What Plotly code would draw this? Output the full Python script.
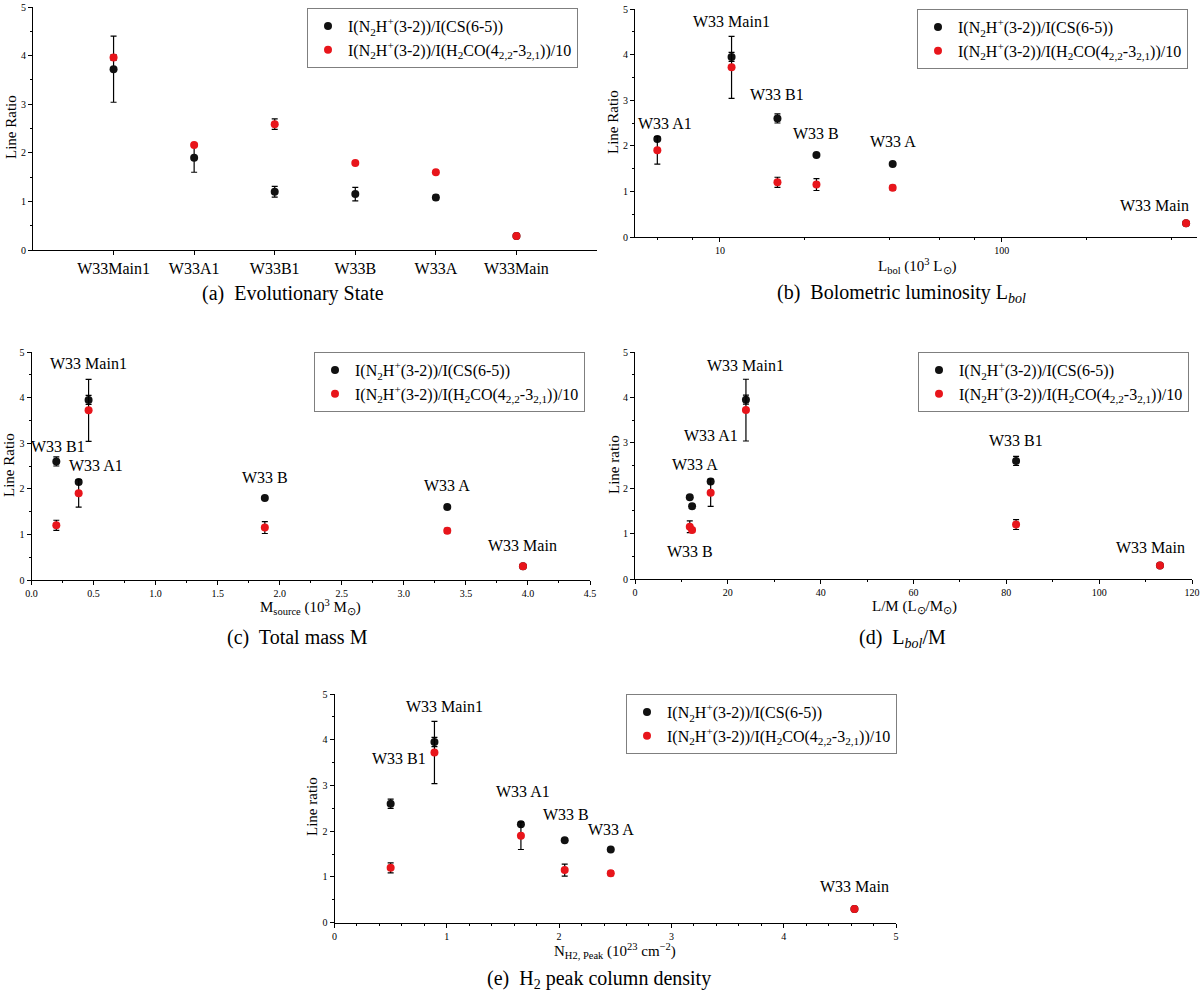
import math
import plotly.graph_objects as go

W, H = 1200, 991
SERIF = "Liberation Serif, Times New Roman, serif"

# ---------------- data ----------------
sources = ["W33 Main1", "W33 A1", "W33 B1", "W33 B", "W33 A", "W33 Main"]
evol_labels = ["W33Main1", "W33A1", "W33B1", "W33B", "W33A", "W33Main"]

ratio_cs = [3.95, 2.15, 2.60, 1.80, 1.60, 0.30]
err_cs = [0.10, 0.03, 0.10, 0.03, 0.03, 0.03]
ratio_h2co = [3.72, 1.90, 1.20, 1.15, 1.08, 0.30]
err_h2co = [0.68, 0.30, 0.11, 0.13, 0.05, 0.03]

# panel (a) as plotted in the reference (the two series are interchanged there)
evol_black = [3.72, 1.90, 1.20, 1.15, 1.08, 0.29]
evol_black_err = [0.68, 0.30, 0.11, 0.14, 0.05, 0.03]
evol_red = [3.96, 2.16, 2.59, 1.79, 1.60, 0.29]
evol_red_err = [0.06, 0.03, 0.11, 0.03, 0.03, 0.03]

lbol = [11.0, 6.0, 16.0, 22.0, 41.0, 450.0]          # 10^3 Lsun
mass = [0.46, 0.38, 0.20, 1.88, 3.35, 3.96]          # 10^3 Msun
l_over_m = [23.9, 16.3, 82.1, 11.8, 12.3, 113.1]     # Lsun/Msun
n_h2_peak = [0.89, 1.66, 0.50, 2.05, 2.46, 4.63]     # 10^23 cm^-2

name_cs = "I(N<sub>2</sub>H<sup>+</sup>(3-2))/I(CS(6-5))"
name_h2co = "I(N<sub>2</sub>H<sup>+</sup>(3-2))/I(H<sub>2</sub>CO(4<sub>2,2</sub>-3<sub>2,1</sub>))/10"

# ---------------- layout helpers ----------------
def fx(px):
    return px / W

def fy(py):
    return 1 - py / H

BLACK = "#111111"
RED = "#e8151b"

fig = go.Figure()

panels = [
    dict(ax="", x=evol_labels, yb=evol_black, eb=evol_black_err, yr=evol_red, er=evol_red_err,
         xdom=(33, 597), ydom=(250, 7), leg=(578, 8)),
    dict(ax="2", x=lbol, yb=ratio_cs, eb=err_cs, yr=ratio_h2co, er=err_h2co,
         xdom=(635, 1197), ydom=(237, 9), leg=(1188, 9)),
    dict(ax="3", x=mass, yb=ratio_cs, eb=err_cs, yr=ratio_h2co, er=err_h2co,
         xdom=(31.5, 590), ydom=(580, 352), leg=(585, 352)),
    dict(ax="4", x=l_over_m, yb=ratio_cs, eb=err_cs, yr=ratio_h2co, er=err_h2co,
         xdom=(635, 1192), ydom=(579, 352), leg=(1189, 352)),
    dict(ax="5", x=n_h2_peak, yb=ratio_cs, eb=err_cs, yr=ratio_h2co, er=err_h2co,
         xdom=(334.5, 896), ydom=(922.7, 694), leg=(897, 694)),
]

layout = dict(
    width=W, height=H,
    margin=dict(l=0, r=0, t=0, b=0, pad=0, autoexpand=False),
    paper_bgcolor="white", plot_bgcolor="white",
    font=dict(family=SERIF, color="black"),
    annotations=[],
)

for i, p in enumerate(panels):
    ax = p["ax"]
    legname = "legend" if i == 0 else f"legend{i + 1}"
    for yv, ev, col, nm in ((p["yb"], p["eb"], BLACK, name_cs), (p["yr"], p["er"], RED, name_h2co)):
        fig.add_trace(go.Scatter(
            x=p["x"], y=yv, mode="markers", name=nm,
            marker=dict(color=col, size=8),
            error_y=dict(type="data", array=ev, color="black", thickness=1.2, width=3),
            xaxis="x" + ax, yaxis="y" + ax, legend=legname,
        ))
    layout[legname] = dict(
        x=fx(p["leg"][0]), y=fy(p["leg"][1]), xanchor="right", yanchor="top",
        bordercolor="#7f7f7f", borderwidth=1, bgcolor="white",
        font=dict(family=SERIF, size=16, color="black"),
        itemwidth=30, tracegroupgap=0,
    )
    common = dict(showline=True, linecolor="black", linewidth=1, showgrid=False,
                  zeroline=False, ticks="outside", ticklen=4, tickcolor="black",
                  mirror=False, automargin=False)
    layout["yaxis" + ax] = dict(
        domain=[fy(p["ydom"][0]), fy(p["ydom"][1])], range=[0, 5], dtick=1,
        anchor="x" + ax, tickfont=dict(family=SERIF, size=10),
        minor=dict(dtick=0.5, ticklen=2, ticks="outside", tickcolor="black"),
        **common,
    )
    xa = dict(domain=[fx(p["xdom"][0]), fx(p["xdom"][1])], anchor="y" + ax,
              tickfont=dict(family=SERIF, size=10), **common)
    if i == 0:
        xa.update(type="category", range=[-1, 6], tickfont=dict(family=SERIF, size=16))
    elif i == 1:
        xa.update(type="log", range=[math.log10(5), math.log10(492)],
                  tickvals=[10, 100], ticktext=["10", "100"],
                  minor=dict(tickvals=[6, 8, 20, 40, 60, 80, 200, 400], ticklen=2,
                             ticks="outside", tickcolor="black"))
    elif i == 2:
        xa.update(range=[0, 4.5], dtick=0.5, tickformat=".1f",
                  minor=dict(dtick=0.25, ticklen=2, ticks="outside", tickcolor="black"))
    elif i == 3:
        xa.update(range=[0, 120], dtick=20,
                  minor=dict(dtick=10, ticklen=2, ticks="outside", tickcolor="black"))
    else:
        xa.update(range=[0, 5], dtick=1,
                  minor=dict(dtick=0.2, ticklen=2, ticks="outside", tickcolor="black"))
    layout["xaxis" + ax] = xa

# ---------------- source labels (text placement: y in data units, x pixel shift) ----------------
label_place = {
    "2": {"W33 Main1": (0, 4.73), "W33 A1": (8, 2.49), "W33 B1": (0, 3.12),
          "W33 B": (0, 2.28), "W33 A": (0, 2.10), "W33 Main": (-32, 0.69)},
    "3": {"W33 Main1": (0, 4.74), "W33 A1": (17, 2.51), "W33 B1": (2, 2.93),
          "W33 B": (0, 2.25), "W33 A": (0, 2.07), "W33 Main": (0, 0.75)},
    "4": {"W33 Main1": (0, 4.71), "W33 A1": (0, 3.17), "W33 B1": (0, 3.06),
          "W33 B": (0, 0.60), "W33 A": (3, 2.53), "W33 Main": (-9, 0.69)},
    "5": {"W33 Main1": (10, 4.72), "W33 A1": (2, 2.87), "W33 B1": (8, 3.58),
          "W33 B": (1, 2.37), "W33 A": (0, 2.03), "W33 Main": (0, 0.79)},
}
for p in panels[1:]:
    ax = p["ax"]
    for s, xv in zip(sources, p["x"]):
        dx, ly = label_place[ax][s]
        xval = math.log10(xv) if ax == "2" else xv
        layout["annotations"].append(dict(
            x=xval, y=ly, xref="x" + ax, yref="y" + ax, text=s, showarrow=False,
            xshift=dx, font=dict(family=SERIF, size=16, color="black"),
            xanchor="center", yanchor="middle",
        ))

# ---------------- axis titles and captions ----------------
def paper_text(text, px, py, size, angle=0):
    layout["annotations"].append(dict(
        x=fx(px), y=fy(py), xref="paper", yref="paper", text=text, showarrow=False,
        textangle=angle, xanchor="center", yanchor="middle",
        font=dict(family=SERIF, size=size, color="black"),
    ))

paper_text("Line Ratio", 11, 127, 15, -90)
paper_text("Line Ratio", 613, 122, 15, -90)
paper_text("Line Ratio", 9, 465, 15, -90)
paper_text("Line ratio", 614, 465, 15, -90)
paper_text("Line ratio", 312, 807, 15, -90)

paper_text("L<sub>bol</sub> (10<sup>3</sup> L<sub>⊙</sub>)", 917, 266, 15)
paper_text("M<sub>source</sub> (10<sup>3</sup> M<sub>⊙</sub>)", 310, 607, 15)
paper_text("L/M (L<sub>⊙</sub>/M<sub>⊙</sub>)", 914, 607, 15)
paper_text("N<sub>H2, Peak</sub> (10<sup>23</sup> cm<sup>−2</sup>)", 615, 951, 15)

paper_text("(a)  Evolutionary State", 293, 293, 20)
paper_text("(b)  Bolometric luminosity L<sub><i>bol</i></sub>", 901, 293, 20)
paper_text("(c)  Total mass M", 297, 637, 20)
paper_text("(d)  L<sub><i>bol</i></sub>/M", 902, 638, 20)
paper_text("(e)  H<sub>2</sub> peak column density", 599, 979, 20)

fig.update_layout(**layout)
fig.write_html(
    "out.html",
    config={"displayModeBar": False},
    post_script="document.body.style.margin='0px';document.body.style.overflow='hidden';",
)
